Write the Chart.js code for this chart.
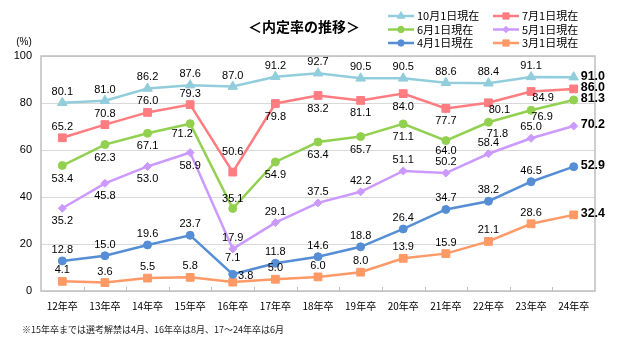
<!DOCTYPE html>
<html>
<head>
<meta charset="utf-8">
<script src="https://cdn.jsdelivr.net/npm/chart.js@4.4.0/dist/chart.umd.min.js"></script>
<style>
  body { margin: 0; background: #fff; }
</style>
</head>
<body>
<canvas id="myChart" width="621" height="349"></canvas>
<script>
// 卒業年（x軸）
const years = ['12年卒','13年卒','14年卒','15年卒','16年卒','17年卒','18年卒','19年卒','20年卒','21年卒','22年卒','23年卒','24年卒'];

// 内定率（%）
const oct1 = [80.1, 81.0, 86.2, 87.6, 87.0, 91.2, 92.7, 90.5, 90.5, 88.6, 88.4, 91.1, 91.0];
const jul1 = [65.2, 70.8, 76.0, 79.3, 50.6, 79.8, 83.2, 81.1, 84.0, 77.7, 80.1, 84.9, 86.0];
const jun1 = [53.4, 62.3, 67.1, 71.2, 35.1, 54.9, 63.4, 65.7, 71.1, 64.0, 71.8, 76.9, 81.3];
const may1 = [35.2, 45.8, 53.0, 58.9, 17.9, 29.1, 37.5, 42.2, 51.1, 50.2, 58.4, 65.0, 70.2];
const apr1 = [12.8, 15.0, 19.6, 23.7, 7.1, 11.8, 14.6, 18.8, 26.4, 34.7, 38.2, 46.5, 52.9];
const mar1 = [4.1, 3.6, 5.5, 5.8, 3.8, 5.0, 6.0, 8.0, 13.9, 15.9, 21.1, 28.6, 32.4];

const seriesNames = ['10月1日現在','7月1日現在','6月1日現在','5月1日現在','4月1日現在','3月1日現在'];

// y軸
const yMin = 0, yMax = 100, yStep = 20;

const titleText = '＜内定率の推移＞';
const unitText = '(%)';
const noteText = '※15年卒までは選考解禁は4月、16年卒は8月、17～24年卒は6月';

const jpFont = '"Noto Sans CJK JP", sans-serif';
const numFont = '"Liberation Sans", Arial, sans-serif';

// 値ラベルの位置 a=上 b=下（最後の点は右に太字）
const labelPlace = ['aaaaaaaaaaaa', 'aaaaabbbbbbb', 'bbbbabbbbbbb', 'bbbbaaaaaaaa', 'aaaaaaaaaaaa', 'aaaaaaaaaaaa'];
const labelNudge = {
  '1-4': [0, -20], '1-10': [11, 7], '1-11': [12, 6],
  '2-3': [-8, 10], '2-4': [0, -10], '2-9': [0, 10], '2-10': [9, 12], '2-11': [11, 7],
  '4-4': [0, -16], '5-4': [13, -6]
};

const styles = [
  { color: '#92CDDC', point: 'triangle', r: 5.5 },
  { color: '#FF7C80', point: 'rect', r: 5.5 },
  { color: '#92D050', point: 'circle', r: 4 },
  { color: '#CC99FF', point: 'rectRot', r: 4 },
  { color: '#558ED5', point: 'circle', r: 4 },
  { color: '#FF9966', point: 'rect', r: 5.5 }
];

const allData = [oct1, jul1, jun1, may1, apr1, mar1];

const datasets = allData.map((d, i) => ({
  label: seriesNames[i],
  data: d,
  borderColor: styles[i].color,
  backgroundColor: styles[i].color,
  pointStyle: styles[i].point,
  pointRadius: styles[i].r,
  pointBorderWidth: 1,
  borderWidth: 2.5,
  tension: 0
}));

// タイトル・凡例・注記・枠線
const framePlugin = {
  id: 'frame',
  beforeDatasetsDraw(chart) {
    const ctx = chart.ctx;
    const a = chart.chartArea;
    ctx.save();
    ctx.strokeStyle = '#BFBFBF';
    ctx.lineWidth = 1.5;
    ctx.strokeRect(a.left, a.top, a.right - a.left, a.bottom - a.top);
    // x軸の目盛り（内向き）
    const n = chart.data.labels.length;
    const w = (a.right - a.left) / n;
    ctx.lineWidth = 1;
    for (let i = 1; i < n; i++) {
      const x = Math.round(a.left + i * w) + 0.5;
      ctx.beginPath();
      ctx.moveTo(x, a.bottom);
      ctx.lineTo(x, a.bottom - 4);
      ctx.stroke();
    }
    ctx.restore();
  },
  afterDraw(chart) {
    const ctx = chart.ctx;
    ctx.save();
    ctx.fillStyle = '#000';
    ctx.textBaseline = 'middle';

    // タイトル
    ctx.font = 'bold 14px ' + jpFont;
    ctx.textAlign = 'center';
    ctx.fillText(titleText, 304, 27);

    // 単位
    ctx.font = '10px ' + numFont;
    ctx.fillText(unitText, 24, 42);

    // 凡例（2列×3行）
    ctx.font = '11px ' + jpFont;
    ctx.textAlign = 'left';
    chart.data.datasets.forEach((ds, i) => {
      const x = [388, 493][i % 2];
      const y = [16, 29.5, 43][Math.floor(i / 2)];
      ctx.strokeStyle = ds.borderColor;
      ctx.fillStyle = ds.borderColor;
      ctx.lineWidth = 2.5;
      ctx.beginPath();
      ctx.moveTo(x, y);
      ctx.lineTo(x + 26, y);
      ctx.stroke();
      ctx.lineWidth = 1;
      Chart.helpers.drawPoint(ctx, { pointStyle: ds.pointStyle, radius: ds.pointRadius * 0.8, rotation: 0, borderWidth: 1 }, x + 13, y);
      ctx.fillStyle = '#000';
      ctx.fillText(ds.label, x + 29, y);
    });

    // 注記
    ctx.font = '9px ' + jpFont;
    ctx.fillStyle = '#222';
    ctx.fillText(noteText, 22, 330);
    ctx.restore();
  }
};

// 値ラベル
const valuePlugin = {
  id: 'values',
  afterDatasetsDraw(chart) {
    const ctx = chart.ctx;
    ctx.save();
    ctx.fillStyle = '#000';
    ctx.textBaseline = 'middle';
    chart.data.datasets.forEach((ds, di) => {
      const meta = chart.getDatasetMeta(di);
      meta.data.forEach((pt, i) => {
        const txt = ds.data[i].toFixed(1);
        if (i === ds.data.length - 1) {
          ctx.font = 'bold 12.5px ' + numFont;
          ctx.textAlign = 'left';
          ctx.fillText(txt, pt.x + 7, pt.y - 1);
          return;
        }
        ctx.font = '11px ' + numFont;
        ctx.textAlign = 'center';
        let off = labelPlace[di][i] === 'b' ? [0, 13] : [0, -11];
        const nudge = labelNudge[di + '-' + i];
        if (nudge) off = nudge;
        ctx.fillText(txt, pt.x + off[0], pt.y + off[1]);
      });
    });
    ctx.restore();
  }
};

const config = {
  type: 'line',
  data: { labels: years, datasets: datasets },
  options: {
    responsive: false,
    animation: false,
    devicePixelRatio: 1,
    layout: { padding: { left: 0, right: 26, top: 56, bottom: 28 } },
    plugins: {
      legend: { display: false },
      title: { display: false },
      tooltip: { enabled: false }
    },
    scales: {
      x: {
        offset: true,
        grid: { display: false },
        border: { display: false },
        ticks: { color: '#000', font: { family: jpFont, size: 10 }, padding: 1, maxRotation: 0 },
        afterFit: (s) => { s.height = 30; }
      },
      y: {
        min: yMin,
        max: yMax,
        grid: { color: '#D9D9D9', lineWidth: 1, drawTicks: false },
        border: { display: false },
        ticks: { stepSize: yStep, color: '#000', font: { family: numFont, size: 11 }, padding: 9 },
        afterFit: (s) => { s.width = 41; }
      }
    }
  },
  plugins: [framePlugin, valuePlugin]
};

new Chart(document.getElementById('myChart'), config);
</script>
</body>
</html>
